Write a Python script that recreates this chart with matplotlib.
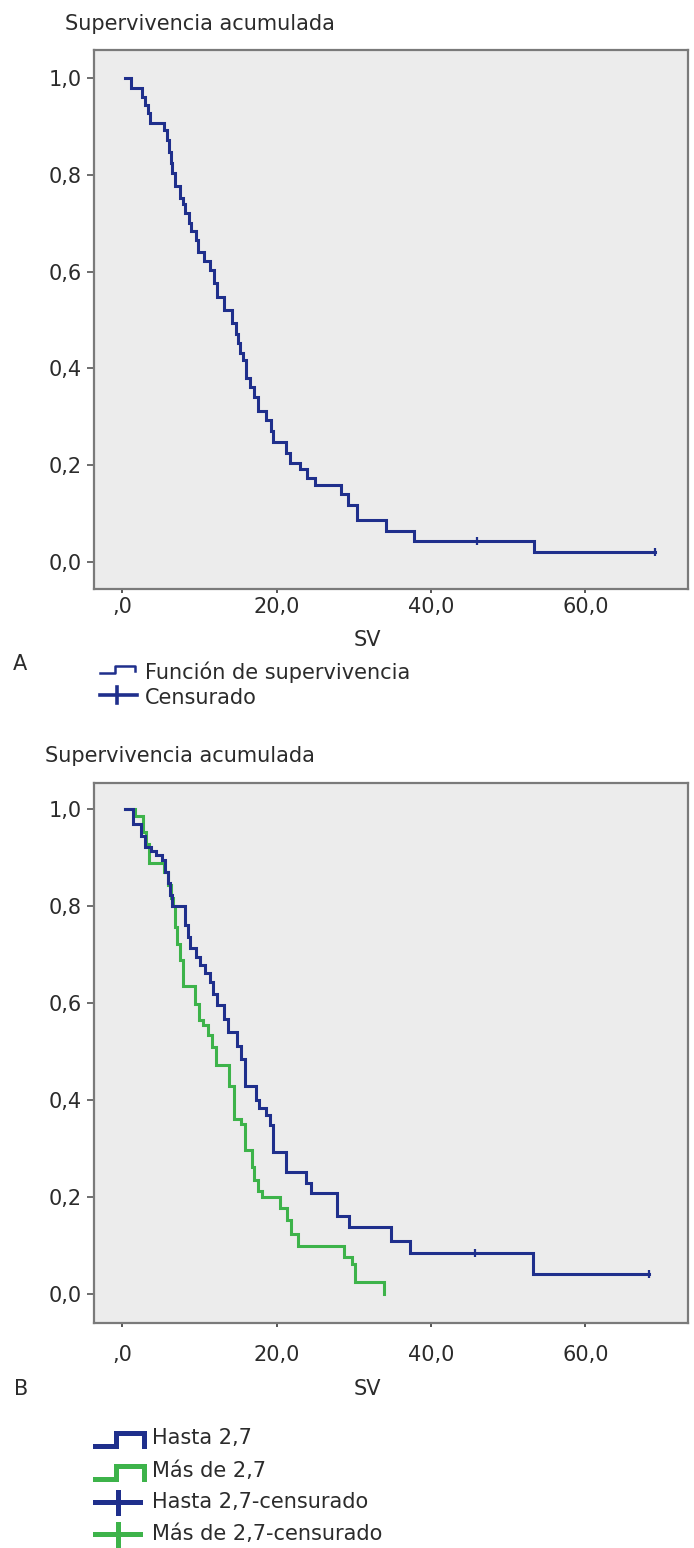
"""Kaplan-Meier curves (SPSS style): A overall, B split at 2,7."""

import matplotlib

matplotlib.use("Agg")
import matplotlib.pyplot as plt

W, H = 694, 1548

# --- data ---------------------------------------------------------------------
# panel A: overall survival (time of each step, survival after the step)
t_all = [0.4, 1.2, 2.6, 3.0, 3.3, 3.6, 5.4, 5.8, 6.1, 6.3, 6.5, 6.9, 7.5, 7.9,
         8.2, 8.6, 8.9, 9.5, 9.8, 10.6, 11.4, 11.9, 12.3, 13.2, 14.2, 14.7, 15.0,
         15.3, 15.7, 16.0, 16.6, 17.1, 17.6, 18.6, 19.3, 19.6, 21.2, 21.8, 23.0,
         24.0, 25.0, 28.4, 29.3, 30.4, 34.2, 37.8, 53.4, 69.0]
s_all = [1.000, 0.980, 0.960, 0.945, 0.928, 0.908, 0.893, 0.872, 0.848, 0.825,
         0.803, 0.776, 0.752, 0.740, 0.722, 0.700, 0.684, 0.665, 0.640, 0.622,
         0.603, 0.576, 0.548, 0.521, 0.493, 0.470, 0.452, 0.431, 0.417, 0.380,
         0.362, 0.341, 0.312, 0.293, 0.270, 0.248, 0.226, 0.204, 0.193, 0.173,
         0.159, 0.140, 0.118, 0.087, 0.064, 0.043, 0.021, 0.021]
cens_all_t = [46.0, 69.0]
cens_all_s = [0.043, 0.021]

# panel B: "Hasta 2,7"
t_low = [0.4, 1.4, 2.5, 2.9, 3.7, 4.4, 5.1, 5.5, 5.9, 6.2, 6.5, 8.2, 8.5, 8.8,
         9.5, 10.1, 10.7, 11.4, 11.8, 12.3, 13.2, 13.7, 14.9, 15.4, 15.9, 17.3,
         17.7, 18.6, 19.1, 19.6, 21.2, 23.8, 24.4, 27.8, 29.4, 34.8, 37.3, 53.2,
         68.3]
s_low = [1.000, 0.970, 0.945, 0.922, 0.914, 0.905, 0.895, 0.870, 0.848, 0.824,
         0.800, 0.762, 0.737, 0.713, 0.695, 0.678, 0.662, 0.643, 0.620, 0.596,
         0.568, 0.541, 0.512, 0.485, 0.430, 0.400, 0.385, 0.370, 0.350, 0.293,
         0.253, 0.230, 0.208, 0.162, 0.139, 0.111, 0.085, 0.042, 0.042]
cens_low_t = [45.7, 68.3]
cens_low_s = [0.085, 0.042]

# panel B: "Más de 2,7"
t_high = [0.4, 1.6, 2.7, 3.1, 3.5, 5.4, 5.9, 6.3, 6.6, 6.9, 7.1, 7.5, 7.9, 9.4,
          9.9, 10.5, 11.1, 11.7, 12.2, 13.9, 14.5, 15.4, 15.9, 16.8, 17.1, 17.6,
          18.1, 20.4, 21.3, 21.9, 22.8, 28.8, 29.8, 30.2, 33.9]
s_high = [1.000, 0.985, 0.953, 0.929, 0.890, 0.871, 0.843, 0.816, 0.800, 0.757,
          0.723, 0.689, 0.636, 0.599, 0.565, 0.555, 0.535, 0.509, 0.472, 0.430,
          0.362, 0.352, 0.297, 0.262, 0.235, 0.214, 0.200, 0.177, 0.153, 0.125,
          0.100, 0.077, 0.063, 0.025, 0.000]

y_ticks = [0.0, 0.2, 0.4, 0.6, 0.8, 1.0]
y_ticklabels = ["0,0", "0,2", "0,4", "0,6", "0,8", "1,0"]
x_ticks = [0, 20, 40, 60]
x_ticklabels = [",0", "20,0", "40,0", "60,0"]

BLUE = "#1f2f8c"
GREEN = "#3db34a"
TXT = "#2b2b2b"
FS = 15

plt.rcParams["font.family"] = ["DejaVu Sans"]


def px_axes(fig, left, top, right, bottom):
    return fig.add_axes([left / W, 1 - bottom / H, (right - left) / W, (bottom - top) / H])


def style_km(ax, ylim, xpad):
    ax.set_facecolor("#ececec")
    ax.set_xlim(-3.65, 73.3)
    ax.set_ylim(*ylim)
    ax.set_yticks(y_ticks, y_ticklabels)
    ax.set_xticks(x_ticks, x_ticklabels)
    for sp in ax.spines.values():
        sp.set_color("#7a7a7a")
        sp.set_linewidth(1.6)
    ax.tick_params(axis="y", length=5, width=1.2, color="#555555", pad=4,
                   labelsize=FS, labelcolor=TXT)
    ax.tick_params(axis="x", length=3, width=1.4, color="#555555", pad=xpad,
                   labelsize=FS, labelcolor=TXT)


def km(ax, t, s, color):
    ax.step(t, s, where="post", color=color, lw=2.2, solid_joinstyle="miter")


fig = plt.figure(figsize=(W / 100, H / 100), dpi=100)

# overlay in pixel coordinates for the free text and legend keys
ov = fig.add_axes([0, 0, 1, 1], zorder=-1)
ov.set_xlim(0, W)
ov.set_ylim(H, 0)
ov.axis("off")

# --- panel A ---------------------------------------------------------------
axA = px_axes(fig, 94, 50, 688, 589)
style_km(axA, (-0.056, 1.058), 3)
km(axA, t_all, s_all, BLUE)
axA.plot(cens_all_t, cens_all_s, ls="none", marker="|", ms=6, mew=1.6, color=BLUE)

ov.text(65, 30, "Supervivencia acumulada", fontsize=FS, color=TXT, va="baseline")
ov.text(367, 640, "SV", fontsize=FS, color=TXT, ha="center", va="center")
ov.text(20, 664, "A", fontsize=FS, color=TXT, ha="center", va="center")

ov.plot([100, 115, 115, 135, 135], [673, 673, 666, 666, 671], color=BLUE, lw=1.8)
ov.text(145, 672, "Función de supervivencia", fontsize=FS, color=TXT, va="center")
ov.plot([100, 137], [695, 695], color=BLUE, lw=2.6)
ov.plot([117, 117], [687, 703], color=BLUE, lw=2.6)
ov.text(145, 698, "Censurado", fontsize=FS, color=TXT, va="center")

# --- panel B ---------------------------------------------------------------
axB = px_axes(fig, 94, 783, 688, 1323)
style_km(axB, (-0.059, 1.054), 13)
km(axB, t_high, s_high, GREEN)
km(axB, t_low, s_low, BLUE)
axB.plot(cens_low_t, cens_low_s, ls="none", marker="|", ms=6, mew=1.6, color=BLUE)

ov.text(45, 762, "Supervivencia acumulada", fontsize=FS, color=TXT, va="baseline")
ov.text(367, 1389, "SV", fontsize=FS, color=TXT, ha="center", va="center")
ov.text(21, 1389, "B", fontsize=FS, color=TXT, ha="center", va="center")

legend_b = [
    ("Hasta 2,7", BLUE, "step", 1438),
    ("Más de 2,7", GREEN, "step", 1471),
    ("Hasta 2,7-censurado", BLUE, "cens", 1502),
    ("Más de 2,7-censurado", GREEN, "cens", 1534),
]
for label, color, kind, yc in legend_b:
    if kind == "step":
        ov.plot([95, 116, 116, 144, 144], [yc + 8, yc + 8, yc - 5, yc - 5, yc + 8],
                color=color, lw=3.6, solid_joinstyle="miter")
    else:
        ov.plot([95, 140], [yc, yc], color=color, lw=3.6)
        ov.plot([118, 118], [yc - 10, yc + 11], color=color, lw=3.6)
    ov.text(152, yc, label, fontsize=FS, color=TXT, va="center")

fig.savefig("out.png", dpi=100)
